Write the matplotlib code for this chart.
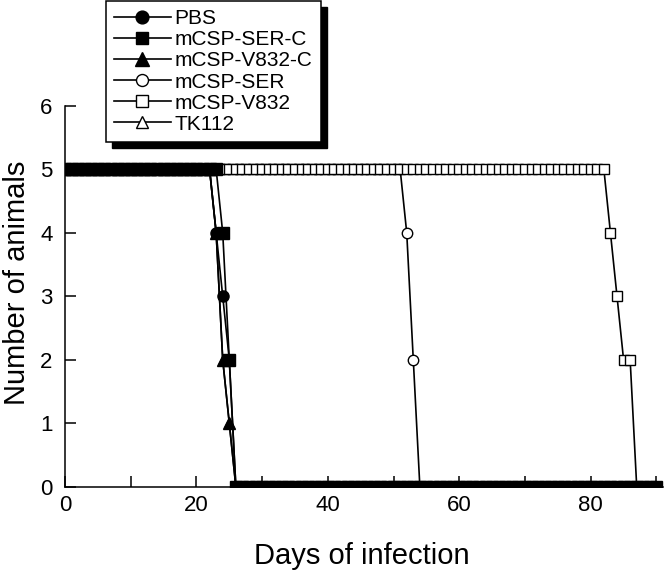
import matplotlib
matplotlib.use("Agg")
import matplotlib.pyplot as plt
from matplotlib.patches import Rectangle
from matplotlib.transforms import IdentityTransform

plt.rcParams['font.family'] = ['Liberation Sans', 'DejaVu Sans']

# dias de observação (um ponto por dia)
days = list(range(0, 91))

# número de animais vivos por dia
pbs = [5] * 23 + [4, 3, 2] + [0] * 65
ser_c = [5] * 24 + [4, 2] + [0] * 65
v832_c = [5] * 23 + [4, 2, 1] + [0] * 65
ser = [5] * 52 + [4, 2] + [0] * 37
v832 = [5] * 83 + [4, 3, 2, 2] + [0] * 4
tk112 = [5] * 23 + [4, 2, 1] + [0] * 65

labels = ['PBS', 'mCSP-SER-C', 'mCSP-V832-C', 'mCSP-SER', 'mCSP-V832', 'TK112']

fig = plt.figure(figsize=(6.64, 5.81), dpi=100)
ax = fig.add_axes([65 / 664, 1 - 486.7 / 581, 598 / 664, 381 / 581])

lw = 1.2
# abertos primeiro (ficam por baixo), depois os preenchidos
h_tk, = ax.plot(days, tk112, '-', color='k', lw=lw, marker='^', ms=7.5,
                mfc='white', mec='k', mew=1.0, zorder=2)
h_ser, = ax.plot(days, ser, '-', color='k', lw=lw, marker='o', ms=7.5,
                 mfc='white', mec='k', mew=1.0, zorder=2)
h_v832, = ax.plot(days, v832, '-', color='k', lw=lw, marker='s', ms=7.5,
                  mfc='white', mec='k', mew=1.0, zorder=2.1)
h_v832c, = ax.plot(days, v832_c, '-', color='k', lw=lw, marker='^', ms=8.5,
                   mfc='k', mec='k', zorder=3)
h_pbs, = ax.plot(days, pbs, '-', color='k', lw=lw, marker='o', ms=8,
                 mfc='k', mec='k', zorder=3.1)
h_serc, = ax.plot(days, ser_c, '-', color='k', lw=lw, marker='s', ms=8,
                  mfc='k', mec='k', zorder=3.2)

ax.set_xlim(0, 91)
ax.set_ylim(0, 6)
ax.set_xticks(range(0, 91, 10))
ax.set_xticklabels([str(d) if d % 20 == 0 else '' for d in range(0, 91, 10)])
ax.set_yticks(range(0, 7))
ax.tick_params(direction='in', length=8, width=1.1, labelsize=16, color='k')
ax.tick_params(axis='x', pad=6)
ax.tick_params(axis='y', pad=9)
for s in ['top', 'right']:
    ax.spines[s].set_visible(False)
for s in ['left', 'bottom']:
    ax.spines[s].set_linewidth(1.1)

fig.text(17 / 664, 1 - 283 / 581, 'Number of animals', rotation=90,
         ha='center', va='center', fontsize=21)
fig.text(362 / 664, 1 - 556 / 581, 'Days of infection',
         ha='center', va='center', fontsize=21)

handles = [h_pbs, h_serc, h_v832c, h_ser, h_v832, h_tk]
leg = ax.legend(handles, labels, loc='upper left',
                bbox_to_anchor=(106 / 664, 1 - 1 / 581), bbox_transform=fig.transFigure,
                borderaxespad=0, fontsize=15, frameon=True, fancybox=False,
                edgecolor='k', framealpha=1, handlelength=2.7, handletextpad=0.2,
                labelspacing=0.1, borderpad=0.4, markerscale=1.15)
leg.get_frame().set_linewidth(1.1)

# sombra preta da legenda
fig.canvas.draw()
bb = leg.get_window_extent()
sombra = Rectangle((bb.x0 + 6, bb.y0 - 6), bb.width, bb.height, transform=IdentityTransform(),
                   facecolor='k', edgecolor='k', zorder=4.9, clip_on=False)
ax.add_artist(sombra)

fig.savefig('out.png', dpi=100)
